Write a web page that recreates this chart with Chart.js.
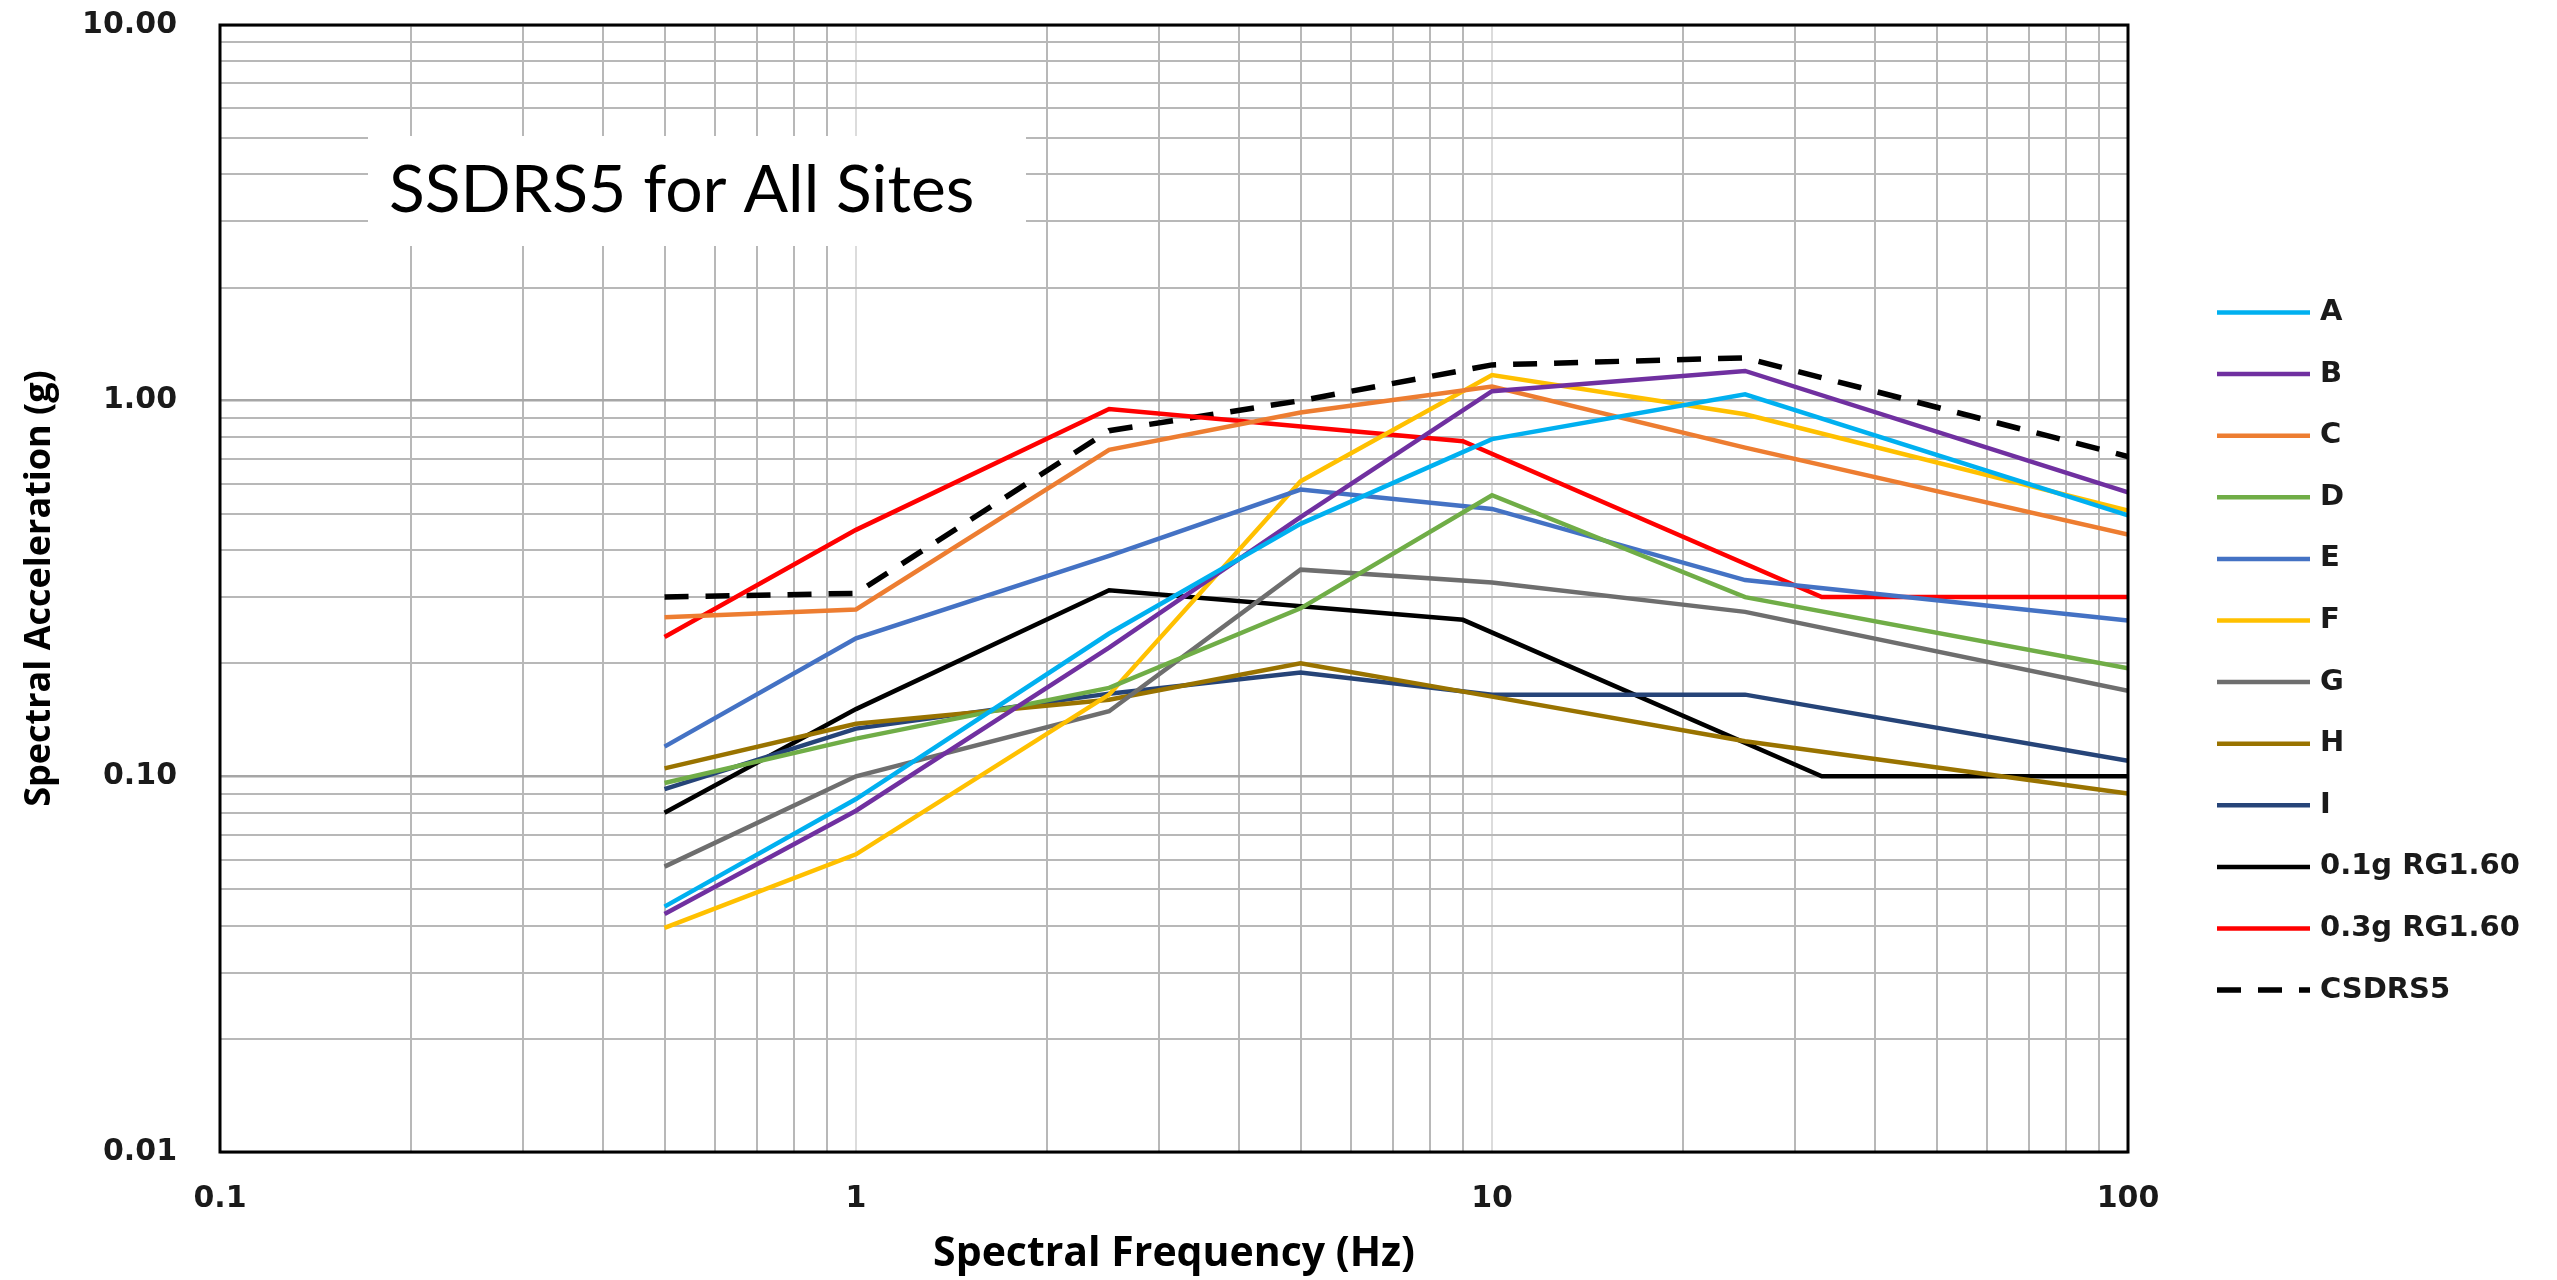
<!DOCTYPE html>
<html>
<head>
<meta charset="utf-8">
<title>SSDRS5 for All Sites</title>
<script src="https://cdn.jsdelivr.net/npm/chart.js@4.4.1/dist/chart.umd.min.js"></script>
<style>
  html, body { margin: 0; padding: 0; background: #ffffff; }
  canvas { display: block; }
</style>
</head>
<body>
<canvas id="chart" width="2557" height="1280"></canvas>
<script>
// Frequencies (Hz) at which the spectra are defined
const siteFreq = [0.5, 1, 2.5, 5, 10, 25, 100];
const rgFreq = [0.5, 1, 2.5, 9, 33, 100];

// Spectral acceleration (g) for each site
const siteA = [0.045, 0.087, 0.24, 0.47, 0.79, 1.04, 0.495];
const siteB = [0.043, 0.081, 0.22, 0.49, 1.06, 1.20, 0.57];
const siteC = [0.265, 0.278, 0.74, 0.93, 1.09, 0.75, 0.44];
const siteD = [0.096, 0.126, 0.172, 0.28, 0.56, 0.30, 0.194];
const siteE = [0.12, 0.233, 0.386, 0.58, 0.515, 0.333, 0.26];
const siteF = [0.0395, 0.062, 0.165, 0.61, 1.17, 0.92, 0.51];
const siteG = [0.0575, 0.10, 0.149, 0.355, 0.328, 0.274, 0.169];
const siteH = [0.105, 0.138, 0.16, 0.20, 0.163, 0.124, 0.09];
const siteI = [0.0925, 0.134, 0.166, 0.189, 0.165, 0.165, 0.110];

// RG 1.60 spectra anchored at 0.1g and 0.3g
const rg01 = [0.08, 0.151, 0.313, 0.261, 0.10, 0.10];
const rg03 = [0.235, 0.453, 0.95, 0.78, 0.30, 0.30];

// CSDRS5 envelope
const csdrs5 = [0.30, 0.307, 0.832, 1.0, 1.245, 1.30, 0.71];

const seriesNames = ['A', 'B', 'C', 'D', 'E', 'F', 'G', 'H', 'I', '0.1g RG1.60', '0.3g RG1.60', 'CSDRS5'];
const seriesColors = ['#00b0f0', '#7030a0', '#ed7d31', '#70ad47', '#4472c4', '#ffc000', '#6e6e6e', '#997300', '#264478', '#000000', '#ff0000', '#000000'];

// Axis decades and their labels
const xDecades = [0.1, 1, 10, 100];
const xTickLabels = ['0.1', '1', '10', '100'];
const yDecades = [0.01, 0.1, 1, 10];
const yTickLabels = ['0.01', '0.10', '1.00', '10.00'];

// 1..9 subdivisions of every decade, used for the log grid
function decadeGrid(decades) {
  const out = [];
  for (let i = 0; i < decades.length - 1; i++) {
    for (let k = 1; k <= 9; k++) out.push(+(decades[i] * k).toPrecision(4));
  }
  out.push(decades[decades.length - 1]);
  return out;
}
const xGrid = decadeGrid(xDecades);
const yGrid = decadeGrid(yDecades);

function isDecade(v, decades) {
  return decades.findIndex(d => Math.abs(d - v) / d < 1e-6);
}

function toPoints(freqs, vals) {
  return freqs.map((f, i) => ({ x: f, y: vals[i] }));
}

const seriesData = [
  toPoints(siteFreq, siteA), toPoints(siteFreq, siteB), toPoints(siteFreq, siteC),
  toPoints(siteFreq, siteD), toPoints(siteFreq, siteE), toPoints(siteFreq, siteF),
  toPoints(siteFreq, siteG), toPoints(siteFreq, siteH), toPoints(siteFreq, siteI),
  toPoints(rgFreq, rg01), toPoints(rgFreq, rg03), toPoints(siteFreq, csdrs5)
];

const datasets = seriesData.map((data, i) => ({
  label: seriesNames[i],
  data: data,
  borderColor: seriesColors[i],
  backgroundColor: seriesColors[i],
  borderWidth: i === 11 ? 5.5 : 4.5,
  borderDash: i === 11 ? [24, 17] : [],
  pointRadius: 0,
  pointHoverRadius: 0,
  fill: false,
  tension: 0
}));

// White caption box with the chart heading inside the plot
const captionPlugin = {
  id: 'caption',
  beforeDatasetsDraw(chart) {
    const ctx = chart.ctx;
    ctx.save();
    ctx.fillStyle = '#ffffff';
    ctx.fillRect(368, 136, 658, 110);
    ctx.fillStyle = '#000000';
    ctx.font = '66px Lato';
    ctx.textBaseline = 'alphabetic';
    ctx.fillText('SSDRS5 for All Sites', 389, 212);
    ctx.restore();
  }
};

// Black frame round the plot area
const framePlugin = {
  id: 'frame',
  afterDatasetsDraw(chart) {
    const { left, top, right, bottom } = chart.chartArea;
    const ctx = chart.ctx;
    ctx.save();
    ctx.strokeStyle = '#000000';
    ctx.lineWidth = 3;
    ctx.strokeRect(left, top, right - left, bottom - top);
    ctx.restore();
  }
};

// Legend column to the right of the plot
const sideLegendPlugin = {
  id: 'sideLegend',
  afterDraw(chart) {
    const ctx = chart.ctx;
    chart.data.datasets.forEach((ds, i) => {
      const y = 312.5 + i * 61.6;
      ctx.save();
      ctx.strokeStyle = ds.borderColor;
      ctx.lineWidth = ds.borderWidth;
      ctx.setLineDash(ds.borderDash || []);
      ctx.beginPath();
      ctx.moveTo(2217, y);
      ctx.lineTo(2310, y);
      ctx.stroke();
      ctx.setLineDash([]);
      ctx.fillStyle = '#1a1a1a';
      ctx.font = 'bold 29px "DejaVu Sans"';
      ctx.textBaseline = 'middle';
      ctx.textAlign = 'left';
      ctx.fillText(ds.label, 2320, y);
      ctx.restore();
    });
  }
};

const tickFont = { family: 'DejaVu Sans', weight: 'bold', size: 30 };

new Chart(document.getElementById('chart'), {
  type: 'line',
  data: { datasets: datasets },
  options: {
    responsive: false,
    animation: false,
    events: [],
    layout: { padding: { top: 25, right: 429, left: 0, bottom: 0 } },
    plugins: { legend: { display: false }, tooltip: { enabled: false } },
    scales: {
      x: {
        type: 'logarithmic',
        min: 0.1,
        max: 100,
        afterBuildTicks: (scale) => { scale.ticks = xGrid.map(v => ({ value: v })); },
        afterFit: (scale) => {
          scale.height = 128;
          scale.paddingLeft = 0;
          scale.paddingRight = 0;
        },
        border: { display: false },
        grid: {
          drawTicks: false,
          lineWidth: 2,
          color: (c) => {
            const v = c.tick ? c.tick.value : 0;
            return (Math.abs(v - 1) < 1e-9 || Math.abs(v - 10) < 1e-9) ? '#dcdcdc' : '#b8b8b8';
          }
        },
        ticks: {
          autoSkip: false,
          maxRotation: 0,
          minRotation: 0,
          padding: 29,
          color: '#1a1a1a',
          font: tickFont,
          callback: (v) => { const i = isDecade(v, xDecades); return i >= 0 ? xTickLabels[i] : ''; }
        },
        title: {
          display: true,
          text: 'Spectral Frequency (Hz)',
          color: '#000000',
          font: { family: 'Open Sans', weight: 'bold', size: 41, lineHeight: 1 },
          padding: { top: 0, bottom: 5 }
        }
      },
      y: {
        type: 'logarithmic',
        min: 0.01,
        max: 10,
        afterBuildTicks: (scale) => { scale.ticks = yGrid.map(v => ({ value: v })); },
        afterFit: (scale) => {
          scale.width = 220;
          scale.paddingTop = 0;
          scale.paddingBottom = 0;
        },
        border: { display: false },
        grid: {
          drawTicks: false,
          lineWidth: (c) => (c.tick && isDecade(c.tick.value, yDecades) >= 0 ? 2.5 : 2),
          color: (c) => (c.tick && isDecade(c.tick.value, yDecades) >= 0 ? '#a6a6a6' : '#b8b8b8')
        },
        ticks: {
          autoSkip: false,
          padding: 43,
          color: '#1a1a1a',
          font: tickFont,
          callback: (v) => { const i = isDecade(v, yDecades); return i >= 0 ? yTickLabels[i] : ''; }
        },
        title: {
          display: true,
          text: 'Spectral Acceleration (g)',
          color: '#000000',
          font: { family: 'Open Sans', weight: 'bold', size: 36, lineHeight: 1 },
          padding: { top: 22, bottom: 0 }
        }
      }
    }
  },
  plugins: [captionPlugin, framePlugin, sideLegendPlugin]
});
</script>
</body>
</html>
